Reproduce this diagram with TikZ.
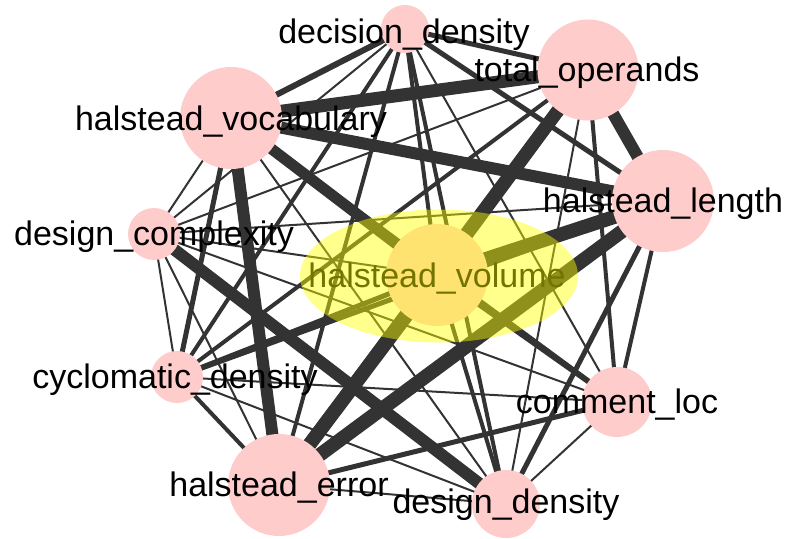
\documentclass[tikz,border=0pt]{standalone}
\usepackage{fontspec}
\setmainfont{Liberation Sans}
\usetikzlibrary{shapes.geometric}
\definecolor{edgegray}{HTML}{333333}
\definecolor{nodepink}{HTML}{FFCCCC}
\definecolor{hilite}{HTML}{FFFF00}
\pgfdeclarelayer{edges}
\pgfsetlayers{edges,main}
\begin{document}
\begin{tikzpicture}[x=1pt,y=-1pt,
  vertex/.style={circle, fill=nodepink, draw=none, inner sep=0pt, minimum size=#1},
  link/.style={draw=edgegray, line width=#1},
  lbl/.style={font=\fontsize{34}{40}\selectfont, anchor=base, inner sep=0pt, text=black}]
\useasboundingbox (0,0) rectangle (792,538);

% metric nodes (size ~ degree weight)
\node[vertex=48pt]  (dd)  at (405,29)  {};
\node[vertex=101pt] (to)  at (588,70)  {};
\node[vertex=102pt] (hv)  at (231,118) {};
\node[vertex=102pt] (hl)  at (663,201) {};
\node[vertex=52pt]  (dc)  at (154,234) {};
\node[vertex=102pt] (vol) at (437,275) {};
\node[vertex=52pt]  (cd)  at (177,377) {};
\node[vertex=70pt]  (cl)  at (617,402) {};
\node[vertex=102pt] (he)  at (279,485) {};
\node[vertex=68pt]  (den) at (506,504) {};

% weighted correlation edges
\begin{pgfonlayer}{edges}
\foreach \a/\b/\w in {
  dd/to/5, dd/hv/6, dd/hl/5, dd/dc/2, dd/vol/4, dd/cd/4, dd/cl/2, dd/he/4, dd/den/4,
  to/hv/13, to/hl/12, to/dc/2, to/vol/13, to/cd/4, to/cl/4, to/he/13, to/den/2,
  hv/hl/12, hv/dc/2, hv/vol/11, hv/cd/5, hv/cl/5, hv/he/12, hv/den/2,
  hl/dc/2, hl/vol/14, hl/cd/5, hl/cl/4, hl/he/14, hl/den/5,
  dc/vol/2, dc/cd/2, dc/cl/2, dc/he/2, dc/den/12,
  vol/cd/5, vol/cl/5, vol/he/14, vol/den/4,
  cd/cl/2, cd/he/4, cd/den/2,
  cl/he/5, cl/den/2,
  he/den/2}
  \draw[link=\w pt] (\a.center) -- (\b.center);
\end{pgfonlayer}

% labels
\node[lbl] (dd-l)  at (404,43)  {decision\_density};
\node[lbl] (to-l)  at (587,81)  {total\_operands};
\node[lbl] (hv-l)  at (231,130) {halstead\_vocabulary};
\node[lbl] (hl-l)  at (663,212) {halstead\_length};
\node[lbl] (dc-l)  at (154,245) {design\_complexity};
\node[lbl] (vol-l) at (437,287) {halstead\_volume};
\node[lbl] (cd-l)  at (175,388) {cyclomatic\_density};
\node[lbl] (cl-l)  at (617,413) {comment\_loc};
\node[lbl] (he-l)  at (279,496) {halstead\_error};
\node[lbl] (den-l) at (506,513) {design\_density};

% highlight around the selected node
\node[ellipse, minimum width=278pt, minimum height=133pt, inner sep=0pt,
      fill=hilite, fill opacity=0.45, draw=none] (sel) at (439,276) {};
\end{tikzpicture}
\end{document}
